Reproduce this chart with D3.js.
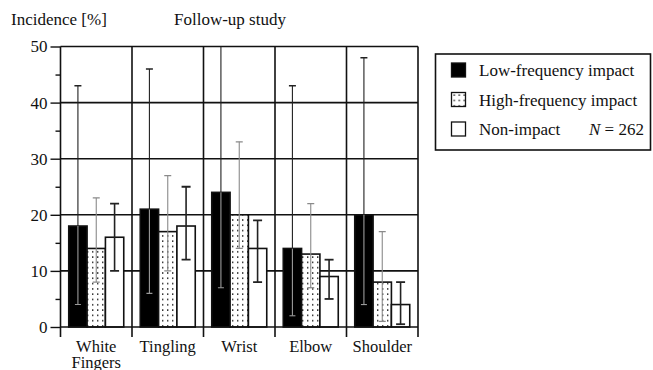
<!DOCTYPE html>
<html>
<head>
<meta charset="utf-8">
<script src="https://cdn.jsdelivr.net/npm/d3@7"></script>
<style>
  body { margin: 0; background: #fff; }
  svg { display: block; }
</style>
</head>
<body>
<div id="chart"></div>
<script>
// categories and series
const categories = ["White Fingers", "Tingling", "Wrist", "Elbow", "Shoulder"];
const seriesNames = ["Low-frequency impact", "High-frequency impact", "Non-impact"];

const lowFreq   = [18, 21, 24, 14, 20];
const lowFreqLo = [4, 6, 7, 2, 4];
const lowFreqHi = [43, 46, 53, 43, 48];

const highFreq   = [14, 17, 20, 13, 8];
const highFreqLo = [8, 10, 14, 7, 1];
const highFreqHi = [23, 27, 33, 22, 17];

const nonImpact   = [16, 18, 14, 9, 4];
const nonImpactLo = [10, 12, 8, 5, 0.5];
const nonImpactHi = [22, 25, 19, 12, 8];

const yTicks = [0, 10, 20, 30, 40, 50];
const yMinor = [5, 15, 25, 35, 45];

const width = 653, height = 370;
const plotL = 60.5, plotR = 418, plotT = 46.5, plotB = 327;
const serif = "Liberation Serif";

const svg = d3.select("#chart").append("svg")
    .attr("width", width)
    .attr("height", height)
    .attr("font-family", serif);

const y = d3.scaleLinear().domain([0, 50]).range([plotB, plotT]);
const x = d3.scaleBand().domain(categories).range([plotL, plotR]).padding(0);
const xs = d3.scaleBand().domain(seriesNames).range([0, x.bandwidth()])
    .paddingInner(0).paddingOuter(0.45);

// dot pattern for high-frequency bars
const defs = svg.append("defs");
const pat = defs.append("pattern")
    .attr("id", "dots")
    .attr("patternUnits", "userSpaceOnUse")
    .attr("width", 5).attr("height", 5.3);
pat.append("rect").attr("width", 5).attr("height", 5.3).attr("fill", "#fff");
pat.append("rect").attr("x", 2).attr("y", 2).attr("width", 1.4).attr("height", 1.4).attr("fill", "#111");

defs.append("clipPath").attr("id", "plotclip")
  .append("rect")
    .attr("x", plotL - 5).attr("y", plotT)
    .attr("width", plotR - plotL + 10).attr("height", plotB - plotT + 5);

// grid lines
svg.append("g").selectAll("line")
  .data(yTicks.filter(d => d > 0))
  .join("line")
    .attr("x1", plotL).attr("x2", plotR)
    .attr("y1", d => y(d)).attr("y2", d => y(d))
    .attr("stroke", "#111").attr("stroke-width", 1.6);

const edges = categories.map(c => x(c)).concat([plotR]);
svg.append("g").selectAll("line")
  .data(edges)
  .join("line")
    .attr("x1", d => d).attr("x2", d => d)
    .attr("y1", plotT).attr("y2", plotB + 10)
    .attr("stroke", "#111").attr("stroke-width", 1.6);

// y axis ticks + labels
const yAxis = d3.axisLeft(y).tickValues(yTicks).tickSize(10).tickPadding(3).tickFormat(d3.format("d"));
const gy = svg.append("g").attr("transform", `translate(${plotL},0)`).call(yAxis)
    .attr("font-family", serif).attr("font-size", 17);
gy.select(".domain").remove();
gy.selectAll(".tick line").attr("stroke", "#111").attr("stroke-width", 1.4);
gy.selectAll(".tick text").attr("fill", "#111");

const yAxisMinor = d3.axisLeft(y).tickValues(yMinor).tickSize(5).tickFormat("");
const gym = svg.append("g").attr("transform", `translate(${plotL},0)`).call(yAxisMinor);
gym.select(".domain").remove();
gym.selectAll(".tick line").attr("stroke", "#111").attr("stroke-width", 1.4);

// bars
const series = [
  { name: seriesNames[0], v: lowFreq,   lo: lowFreqLo,   hi: lowFreqHi,   fill: "#000" },
  { name: seriesNames[1], v: highFreq,  lo: highFreqLo,  hi: highFreqHi,  fill: "url(#dots)" },
  { name: seriesNames[2], v: nonImpact, lo: nonImpactLo, hi: nonImpactHi, fill: "#fff" }
];

const rows = [];
series.forEach(s => {
  categories.forEach((c, i) => {
    rows.push({ cat: c, name: s.name, v: s.v[i], lo: s.lo[i], hi: s.hi[i], fill: s.fill });
  });
});

const barX = d => x(d.cat) + xs(d.name);

svg.append("g").selectAll("rect")
  .data(rows)
  .join("rect")
    .attr("x", d => barX(d))
    .attr("y", d => y(d.v))
    .attr("width", xs.bandwidth())
    .attr("height", d => y(0) - y(d.v))
    .attr("fill", d => d.fill)
    .attr("stroke", "#111")
    .attr("stroke-width", 1.6);

// axis baseline
svg.append("line")
    .attr("x1", plotL).attr("x2", plotR)
    .attr("y1", y(0)).attr("y2", y(0))
    .attr("stroke", "#111").attr("stroke-width", 1.6);

// error bars
const eg = svg.append("g").attr("clip-path", "url(#plotclip)");
rows.forEach(d => {
  const cx = barX(d) + xs.bandwidth() / 2;
  const g = eg.append("g");
  if (d.name === seriesNames[0]) {
    // gray inside the black bar, dark above it
    g.append("line").attr("x1", cx).attr("x2", cx).attr("y1", y(d.lo)).attr("y2", y(d.v))
      .attr("stroke", "#9a9a9a").attr("stroke-width", 1.1);
    g.append("line").attr("x1", cx - 3).attr("x2", cx + 3).attr("y1", y(d.lo)).attr("y2", y(d.lo))
      .attr("stroke", "#9a9a9a").attr("stroke-width", 1.1);
    g.append("line").attr("x1", cx).attr("x2", cx).attr("y1", y(d.v)).attr("y2", y(d.hi))
      .attr("stroke", "#222").attr("stroke-width", 1.1);
    g.append("line").attr("x1", cx - 3.5).attr("x2", cx + 3.5).attr("y1", y(d.hi)).attr("y2", y(d.hi))
      .attr("stroke", "#222").attr("stroke-width", 1.4);
  } else {
    const col = d.name === seriesNames[1] ? "#8a8a8a" : "#222";
    const sw = d.name === seriesNames[1] ? 1.1 : 1.6;
    const cap = d.name === seriesNames[1] ? 3.5 : 4.5;
    g.append("line").attr("x1", cx).attr("x2", cx).attr("y1", y(d.lo)).attr("y2", y(d.hi))
      .attr("stroke", col).attr("stroke-width", sw);
    [d.lo, d.hi].forEach(e => {
      g.append("line").attr("x1", cx - cap).attr("x2", cx + cap).attr("y1", y(e)).attr("y2", y(e))
        .attr("stroke", col).attr("stroke-width", sw + 0.2);
    });
  }
});

// category labels
svg.append("g").selectAll("text")
  .data(categories)
  .join("text")
    .attr("x", d => x(d) + x.bandwidth() / 2)
    .attr("y", 352)
    .attr("text-anchor", "middle")
    .attr("font-family", serif)
    .attr("font-size", 16.5)
    .attr("fill", "#111")
    .each(function(d) {
      const words = d.split(" ");
      const t = d3.select(this);
      words.forEach((w, i) => {
        t.append("tspan")
          .attr("x", x(d) + x.bandwidth() / 2)
          .attr("dy", i === 0 ? 0 : 15.5)
          .text(w);
      });
    });

// titles
svg.append("text").attr("x", 11).attr("y", 25).attr("font-family", serif)
    .attr("font-size", 17).attr("fill", "#111")
    .text("Incidence [%]");
svg.append("text").attr("x", 174).attr("y", 25).attr("font-family", serif)
    .attr("font-size", 17).attr("fill", "#111")
    .text("Follow-up study");

// legend
const lg = svg.append("g");
lg.append("rect")
    .attr("x", 435.5).attr("y", 54)
    .attr("width", 215).attr("height", 96)
    .attr("fill", "#fff").attr("stroke", "#111").attr("stroke-width", 1.6);

const legRows = lg.selectAll("g.row")
  .data(series)
  .join("g")
    .attr("class", "row")
    .attr("transform", (d, i) => `translate(451.5,${63 + i * 29.5})`);

legRows.append("rect")
    .attr("width", 14).attr("height", 14)
    .attr("fill", d => d.fill)
    .attr("stroke", "#111").attr("stroke-width", 1.3);

legRows.append("text")
    .attr("x", 27.5).attr("y", 13)
    .attr("font-family", serif)
    .attr("font-size", 17)
    .attr("fill", "#111")
    .text(d => d.name);

const nText = lg.append("text").attr("x", 589).attr("y", 135)
    .attr("font-family", serif).attr("font-size", 17).attr("fill", "#111");
nText.append("tspan").attr("font-style", "italic").text("N");
nText.append("tspan").text(" = 262");
</script>
</body>
</html>
